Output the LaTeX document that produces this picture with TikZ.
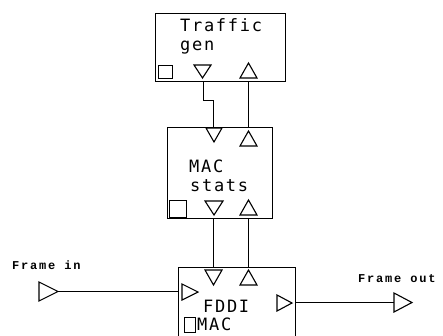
\documentclass[tikz,border=0pt]{standalone}
\usepackage{fontspec}
\newfontfamily\boxfont[LetterSpace=10]{DejaVu Sans Mono}
\newfontfamily\lblfont[LetterSpace=15]{Liberation Mono}
\begin{document}
\begin{tikzpicture}[x=1pt,y=-1pt,
  blk/.style={draw,line width=1.2pt},
  port/.style={draw,line width=1.1pt,line join=miter},
  sq/.style={draw,line width=1pt},
  wire/.style={draw,line width=1pt},
  txt/.style={anchor=base west,inner sep=0pt,font=\boxfont\fontsize{17}{17}\selectfont},
  lbl/.style={anchor=base west,inner sep=0pt,font=\lblfont\bfseries\fontsize{12}{12}\selectfont}]
\useasboundingbox (0,0) rectangle (443,335);
\clip (0,0) rectangle (443,335);
% boxes
\node[blk,minimum width=130pt,minimum height=68pt,anchor=north west,inner sep=0pt] (tg) at (155,13) {};
\node[blk,minimum width=105pt,minimum height=91pt,anchor=north west,inner sep=0pt] (ms) at (167,127) {};
\node[blk,minimum width=117pt,minimum height=80pt,anchor=north west,inner sep=0pt] (fd) at (178,267) {};
% texts
\node[txt] (t1) at (180,31) {Traffic};
\node[txt] (t2) at (180,50) {gen};
\node[txt] (t3) at (189,172) {MAC};
\node[txt] (t4) at (190,191) {stats};
\node[txt] (t5) at (203,312) {FDDI};
\node[txt] (t6) at (197,330) {MAC};
\node[lbl] (fi) at (12,269) {Frame in};
\node[lbl] (fo) at (358,282) {Frame out};
% traffic gen ports
\draw[sq] (158,65) rectangle (172,78);
\draw[port] (194,65) -- (211,65) -- (202.5,78) -- cycle;
\draw[port] (248.5,63) -- (257,78) -- (240,78) -- cycle;
% mac stats ports
\draw[port] (206,128) -- (222,128) -- (214,142) -- cycle;
\draw[port] (248.5,131) -- (257,146) -- (240,146) -- cycle;
\draw[sq] (169,200) rectangle (186,217);
\draw[port] (205,201) -- (223,201) -- (214,215) -- cycle;
\draw[port] (248.5,200) -- (257,215) -- (240,215) -- cycle;
% fddi ports
\draw[port] (205,270) -- (222,270) -- (213.5,285) -- cycle;
\draw[port] (248.5,270) -- (257,285) -- (240,285) -- cycle;
\draw[port] (182,284) -- (198,292) -- (182,300) -- cycle;
\draw[port] (277,295) -- (292,303) -- (277,311) -- cycle;
\draw[sq] (184,317) rectangle (195,332);
% external ports
\draw[port] (39,282) -- (58,291.5) -- (39,301) -- cycle;
\draw[port] (394,293) -- (412,302.5) -- (394,312) -- cycle;
% wire anchors
\coordinate (tgA) at (203,81);
\coordinate (tgB) at (248.5,81);
\coordinate (msA) at (213,127);
\coordinate (msB) at (248.5,127);
\coordinate (msC) at (213,218);
\coordinate (msD) at (248.5,218);
\coordinate (fdA) at (213,267);
\coordinate (fdB) at (248.5,267);
\coordinate (inT) at (58,291.5);
\coordinate (fdL) at (178,291.5);
\coordinate (fdR) at (295,302.5);
\coordinate (outT) at (394,302.5);
% wires
\draw[wire] (tgA) -- (203,100) -| (msA);
\draw[wire] (tgB) -- (msB);
\draw[wire] (msC) -- (fdA);
\draw[wire] (msD) -- (fdB);
\draw[wire] (inT) -- (fdL);
\draw[wire] (fdR) -- (outT);
\end{tikzpicture}
\end{document}
